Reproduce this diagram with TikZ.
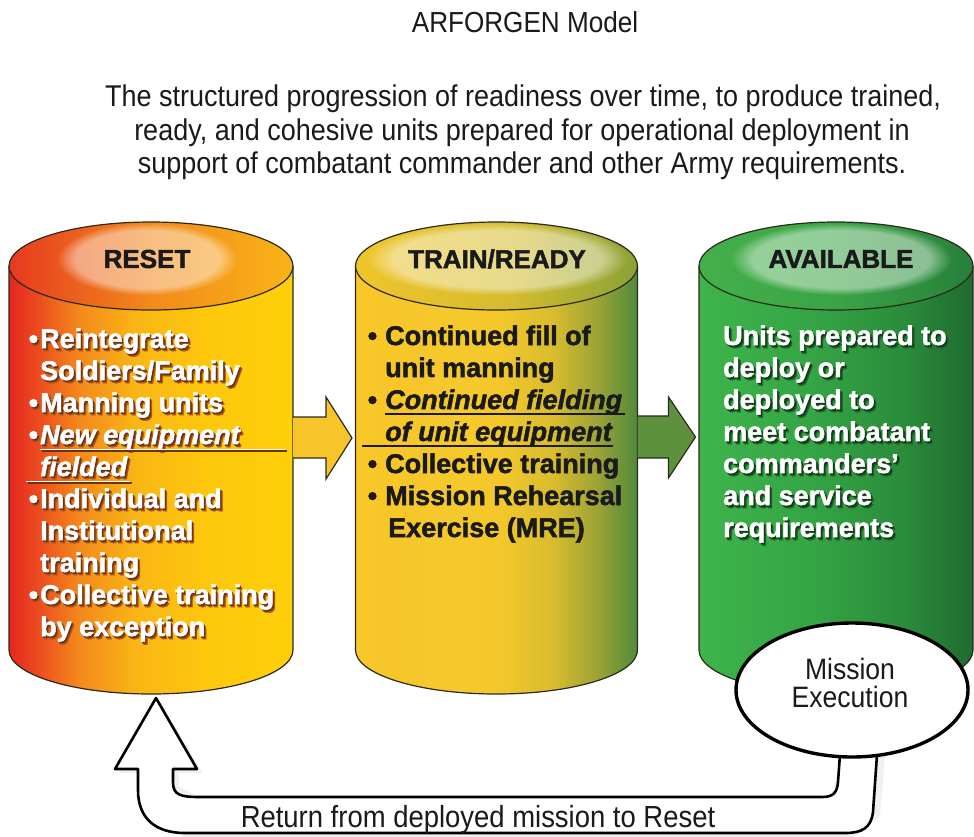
\documentclass[tikz,border=0pt]{standalone}
\usepackage{fontspec}
\setmainfont{Liberation Sans}
\newfontfamily\heavyfont{Liberation Sans Bold}[FakeBold=1.8, ItalicFont={Liberation Sans Bold Italic}]
\newfontfamily\narrowfont{Liberation Sans}[FakeStretch=0.9]
\usetikzlibrary{fadings,calc,shapes.geometric}

% cylinder colours
\definecolor{rb0}{HTML}{E42620}\definecolor{rb1}{HTML}{EC4B1F}\definecolor{rb2}{HTML}{F38A1C}
\definecolor{rb3}{HTML}{FAB614}\definecolor{rb4}{HTML}{FDC80C}\definecolor{rb5}{HTML}{FFCF0A}
\definecolor{rt0}{HTML}{E63A1F}\definecolor{rt1}{HTML}{F28A1C}\definecolor{rt2}{HTML}{F9B416}
\definecolor{tb0}{HTML}{F8C72A}\definecolor{tb1}{HTML}{F4C82B}\definecolor{tb2}{HTML}{D9BC2E}
\definecolor{tb3}{HTML}{9FA436}\definecolor{tb4}{HTML}{4F8A3B}
\definecolor{tt0}{HTML}{F0C52B}\definecolor{tt1}{HTML}{D5BC2E}\definecolor{tt2}{HTML}{8AA236}
\definecolor{ab0}{HTML}{3EB44B}\definecolor{ab1}{HTML}{35A545}\definecolor{ab2}{HTML}{2A8C3B}\definecolor{ab3}{HTML}{1F6B30}
\definecolor{at0}{HTML}{44B04A}\definecolor{at1}{HTML}{3AA446}\definecolor{at2}{HTML}{27803A}
\definecolor{edge}{HTML}{2B2A1C}
\definecolor{arrowA}{HTML}{F7C52A}
\definecolor{arrowB}{HTML}{5E913D}
\definecolor{txt}{HTML}{1A1A1A}
% text shadow tones
\definecolor{rsnear}{HTML}{6E3212}\definecolor{rsfar}{HTML}{A9561A}
\definecolor{asnear}{HTML}{0E3A15}\definecolor{asfar}{HTML}{1E6328}

\pgfdeclarehorizontalshading{resetbody}{100bp}{color(0bp)=(rb0); color(25bp)=(rb0); color(30bp)=(rb1);
  color(37.5bp)=(rb2); color(47.5bp)=(rb3); color(60bp)=(rb4); color(75bp)=(rb5); color(100bp)=(rb5)}
\pgfdeclarehorizontalshading{resettop}{100bp}{color(0bp)=(rt0); color(25bp)=(rt0); color(50bp)=(rt1);
  color(75bp)=(rt2); color(100bp)=(rt2)}
\pgfdeclarehorizontalshading{trainbody}{100bp}{color(0bp)=(tb0); color(25bp)=(tb0); color(50bp)=(tb1);
  color(60bp)=(tb2); color(67.5bp)=(tb3); color(75bp)=(tb4); color(100bp)=(tb4)}
\pgfdeclarehorizontalshading{traintop}{100bp}{color(0bp)=(tt0); color(25bp)=(tt0); color(52.5bp)=(tt1);
  color(75bp)=(tt2); color(100bp)=(tt2)}
\pgfdeclarehorizontalshading{availbody}{100bp}{color(0bp)=(ab0); color(25bp)=(ab0); color(45bp)=(ab1);
  color(62.5bp)=(ab2); color(75bp)=(ab3); color(100bp)=(ab3)}
\pgfdeclarehorizontalshading{availtop}{100bp}{color(0bp)=(at0); color(25bp)=(at0); color(50bp)=(at1);
  color(75bp)=(at2); color(100bp)=(at2)}

% one cylinder: centre x, radius x, body shading, top shading, name
\newcommand\drawcyl[5]{%
  \shade[shading=#3] (#1-#2,266) -- (#1-#2,650)
     arc[start angle=180,end angle=0,x radius=#2,y radius=44] -- (#1+#2,266) -- cycle;
  \draw[cylline] (#1-#2,266) -- (#1-#2,650)
     arc[start angle=180,end angle=0,x radius=#2,y radius=44] -- (#1+#2,266);
  \shade[shading=#4] (#1,266) ellipse[x radius=#2, y radius=44];
  \draw[cylline] (#1,266) ellipse[x radius=#2, y radius=44];
  \coordinate (#5top) at (#1,266);
  \coordinate (#5bot) at (#1,694);
  \coordinate (#5W) at (#1-#2,437);
  \coordinate (#5E) at (#1+#2,437);}

% text with a two-step drop shadow: near tone, far tone, text
\newcommand\shtext[3]{%
  \rlap{\kern2.6pt\raisebox{-3pt}{\color{#2}#3}}%
  \rlap{\kern1.4pt\raisebox{-1.6pt}{\color{#1}#3}}#3}
\newcommand\rline[4]{\node[bodytxt, text=white] (#1) at (#2,#3) {\shtext{rsnear}{rsfar}{#4}};}
\newcommand\aline[4]{\node[bodytxt, text=white] (#1) at (#2,#3) {\shtext{asnear}{asfar}{#4}};}
\newcommand\bline[4]{\node[bodytxt, text=txt] (#1) at (#2,#3) {#4};}

\begin{document}
\begin{tikzpicture}[x=1pt,y=-1pt,
  cylline/.style={draw=edge, line width=1.2pt},
  bodytxt/.style={font=\heavyfont\fontsize{27}{32}\selectfont, inner sep=0pt, anchor=base west},
  headtxt/.style={font=\heavyfont\fontsize{26}{30}\selectfont, text=txt, inner sep=0pt},
  plaintxt/.style={font=\narrowfont\fontsize{30}{33}\selectfont, text=txt, inner sep=0pt, anchor=base},
  glow/.style={fill=white, fill opacity=0.45, path fading=circle with fuzzy edge 20 percent},
  blockarrow/.style={draw=edge, line width=1.2pt},
  retarrow/.style={draw=black, fill=white, line width=2.6pt, line join=round},
]
\useasboundingbox (0,0) rectangle (974,836);
\fill[white] (0,0) rectangle (974,836);

% ---- title and statement ----
\node[plaintxt, font=\narrowfont\fontsize{29}{33}\selectfont] (title) at (525,32) {ARFORGEN Model};
\node[plaintxt] (sub1) at (523,106) {The structured progression of readiness over time, to produce trained,};
\node[plaintxt] (sub2) at (522,140) {ready, and cohesive units prepared for operational deployment in};
\node[plaintxt] (sub3) at (522,173) {support of combatant commander and other Army requirements.};

% ---- the three phases ----
\drawcyl{151}{142}{resetbody}{resettop}{reset}
\drawcyl{496.5}{141}{trainbody}{traintop}{train}
\drawcyl{836}{137}{availbody}{availtop}{avail}

\fill[glow] (147,259) ellipse[x radius=90, y radius=36];
\fill[glow] (497,259) ellipse[x radius=130, y radius=36];
\fill[glow] (841,259) ellipse[x radius=110, y radius=36];
\node[headtxt] (hreset) at (147,259) {RESET};
\node[headtxt] (htrain) at (497,259) {TRAIN/READY};
\node[headtxt] (havail) at (841,259) {AVAILABLE};

% RESET contents
\rline{r1}{40}{348}{\llap{•\hspace{2pt}}Reintegrate}
\rline{r2}{40}{380}{Soldiers/Family}
\rline{r3}{40}{412}{\llap{•\hspace{2pt}}Manning units}
\rline{r4}{40}{444}{\llap{•\hspace{2pt}}\itshape New equipment}
\rline{r5}{40}{476}{\itshape fielded}
\rline{r6}{40}{508}{\llap{•\hspace{2pt}}Individual and}
\rline{r7}{40}{540}{Institutional}
\rline{r8}{40}{572}{training}
\rline{r9}{40}{604}{\llap{•\hspace{2pt}}Collective training}
\rline{r10}{40}{636}{by exception}
\draw[rsnear, line width=1.3pt] (41.5,451) -- (286.5,451);
\draw[white, line width=1.3pt] (40,449.5) -- (285,449.5);
\draw[rsnear, line width=1.3pt] (27.5,483) -- (131.5,483);
\draw[white, line width=1.3pt] (26,481.5) -- (130,481.5);

% TRAIN/READY contents
\bline{t1}{385}{345}{\llap{•\hspace{8pt}}Continued fill of}
\bline{t2}{385}{377}{unit manning}
\bline{t3}{385}{409}{\llap{•\hspace{8pt}}\itshape Continued fielding}
\bline{t4}{385}{441}{\itshape of unit equipment}
\bline{t5}{385}{473}{\llap{•\hspace{8pt}}Collective training}
\bline{t6}{385}{505}{\llap{•\hspace{8pt}}Mission Rehearsal}
\bline{t7}{388}{537}{Exercise (MRE)}
\draw[txt, line width=1.3pt] (385,414) -- (625,414);
\draw[txt, line width=1.3pt] (362,446) -- (613,446);

% AVAILABLE contents
\aline{a1}{723}{345}{Units prepared to}
\aline{a2}{723}{377}{deploy or}
\aline{a3}{723}{409}{deployed to}
\aline{a4}{723}{441}{meet combatant}
\aline{a5}{723}{473}{commanders’}
\aline{a6}{723}{505}{and service}
\aline{a7}{723}{537}{requirements}

% ---- progression arrows ----
\fill[arrowA] (resetE) ++(0,-20) -- ++(33,0) -- ++(0,-20) -- ($(resetE)+(59,1)$) -- ($(resetE)+(33,42)$)
   -- ++(0,-21) -- ($(resetE)+(0,21)$) -- cycle;
\draw[blockarrow] (resetE) ++(0,-20) -- ++(33,0) -- ++(0,-20) -- ($(resetE)+(59,1)$) -- ($(resetE)+(33,42)$)
   -- ++(0,-21) -- ($(resetE)+(0,21)$);
\fill[arrowB] (trainE) ++(0,-21) -- ++(31,0) -- ++(0,-19) -- ($(trainE)+(58,0)$) -- ($(trainE)+(31,41)$)
   -- ++(0,-20) -- ($(trainE)+(0,21)$) -- cycle;
\draw[blockarrow] (trainE) ++(0,-21) -- ++(31,0) -- ++(0,-19) -- ($(trainE)+(58,0)$) -- ($(trainE)+(31,41)$)
   -- ++(0,-20) -- ($(trainE)+(0,21)$);

% ---- return loop ----
\coordinate (rettip) at ($(resetbot)+(5,4)$);
\coordinate (retstart) at (859,740);
\fill[black, opacity=0.06] ($(rettip)+(4,4)$) -- (203,773) -- (179,773) -- (179,786) -- (204,801) -- (830,801)
   -- (846,744) -- (886,744) -- (880,816) -- (850,840) -- (185,840) -- (143,795) -- (143,773) -- (119,773) -- cycle;
\filldraw[retarrow] (rettip) -- (197,769) -- (173,769) -- (173,782)
   .. controls (173,795) and (180,797) .. (200,797) -- (822,797)
   .. controls (834,797) and (837,792) .. (838,782) -- ($(retstart)+(-18,0)$) -- ($(retstart)+(19,0)$)
   -- (873,812) .. controls (871,828) and (862,833) .. (845,833) -- (185,833)
   .. controls (155,833) and (138,818) .. (138,790) -- (138,769) -- (115,769) -- cycle;
\node[plaintxt, font=\narrowfont\fontsize{30.5}{33}\selectfont] (rettxt) at (478,827) {Return from deployed mission to Reset};

% ---- mission execution ----
\node[draw=black, fill=white, line width=3.4pt, ellipse, minimum width=232pt, minimum height=134pt, inner sep=0pt]
   (mission) at (852,690) {};
\node[plaintxt, font=\narrowfont\fontsize{29.5}{33}\selectfont] (mis1) at (850,679) {Mission};
\node[plaintxt, font=\narrowfont\fontsize{29.5}{33}\selectfont] (mis2) at (850,707) {Execution};
\end{tikzpicture}
\end{document}
